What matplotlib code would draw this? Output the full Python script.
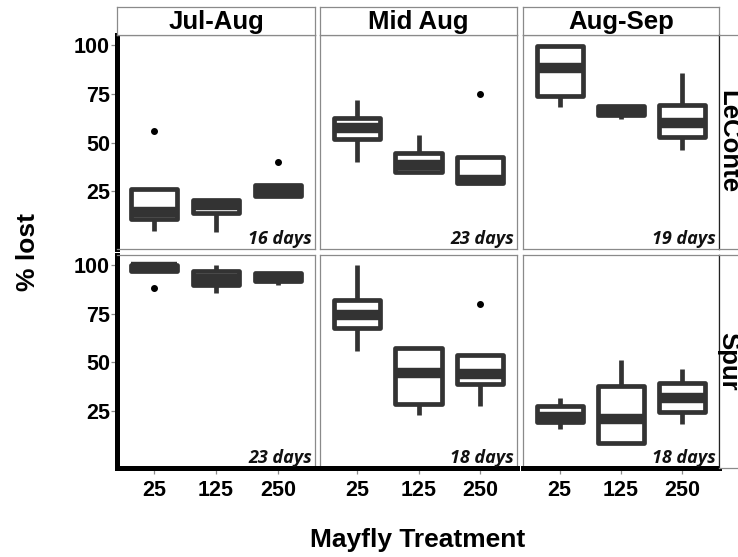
import matplotlib
matplotlib.use("Agg")
import matplotlib.pyplot as plt

plt.rcParams["font.family"] = ["Liberation Sans", "DejaVu Sans"]

seasons = ["Jul-Aug", "Mid Aug", "Aug-Sep"]
streams = ["LeConte", "Spur"]
treatments = ["25", "125", "250"]

# box summaries: one list per panel, one entry per treatment
leconte_q1 = [[10.8, 13.8, 22.8], [52.0, 35.0, 29.4], [73.9, 64.4, 53.0]]
leconte_med = [[14.7, 18.3, 25.0], [57.7, 38.4, 30.8], [88.3, 66.0, 60.3]]
leconte_q3 = [[26.2, 20.7, 28.4], [62.8, 44.5, 42.8], [99.6, 68.8, 69.4]]
leconte_lo = [[4.8, 4.3, 22.0], [40.3, 35.0, 29.4], [68.1, 62.3, 46.5]]
leconte_hi = [[26.2, 20.7, 28.4], [72.0, 53.7, 42.8], [99.6, 68.8, 85.9]]
leconte_out = [[[55.9], [], [40.3]], [[], [], [74.9]], [[], [], []]]

spur_q1 = [[96.9, 89.6, 91.9], [67.6, 28.7, 38.6], [19.3, 8.4, 24.1]]
spur_med = [[99.0, 93.0, 93.5], [74.4, 44.2, 43.9], [22.0, 20.9, 31.5]]
spur_q3 = [[100.0, 97.1, 95.7], [81.9, 57.4, 53.9], [27.5, 37.9, 39.3]]
spur_lo = [[96.9, 85.7, 89.8], [56.0, 22.9, 27.5], [15.8, 8.4, 18.1]]
spur_hi = [[100.0, 100.0, 95.7], [100.0, 57.4, 53.9], [31.5, 51.2, 46.5]]
spur_out = [[[88.3], [], []], [[], [], [79.8]], [[], [], []]]

days = [["16 days", "23 days", "19 days"], ["23 days", "18 days", "18 days"]]

summaries = [
    (leconte_q1, leconte_med, leconte_q3, leconte_lo, leconte_hi, leconte_out),
    (spur_q1, spur_med, spur_q3, spur_lo, spur_hi, spur_out),
]

W, H = 738, 557
fig = plt.figure(figsize=(W / 100, H / 100), dpi=100)


def px_axes(x0, y0, x1, y1):
    # pixel box (top-left origin) -> figure axes
    return fig.add_axes([x0 / W, 1 - y1 / H, (x1 - x0) / W, (y1 - y0) / H])


col_px = [(117, 315), (320, 517), (523, 719)]
row_px = [(35, 249), (255, 468)]
box_col = "#333333"
frame_col = "#8a8a8a"

for r, stream in enumerate(streams):
    q1s, meds, q3s, los, his, outs = summaries[r]
    for c, season in enumerate(seasons):
        x0, x1 = col_px[c]
        y0, y1 = row_px[r]
        ax = px_axes(x0, y0, x1, y1)

        stats = []
        for i, t in enumerate(treatments):
            stats.append({
                "q1": q1s[c][i], "med": meds[c][i], "q3": q3s[c][i],
                "whislo": los[c][i], "whishi": his[c][i],
                "fliers": outs[c][i], "label": t,
            })
        ax.bxp(stats, positions=[1, 2, 3], widths=0.75, patch_artist=True,
               showcaps=False,
               boxprops=dict(facecolor="white", edgecolor=box_col,
                             linewidth=3.4, joinstyle="round"),
               medianprops=dict(color=box_col, linewidth=7.5,
                                solid_capstyle="butt"),
               whiskerprops=dict(color=box_col, linewidth=3.4,
                                 solid_capstyle="butt"),
               flierprops=dict(marker="o", markerfacecolor="black",
                               markeredgecolor="black", markersize=4))

        ax.set_xlim(0.4, 3.6)
        ax.set_ylim(-4.5, 105.2)

        for s in ax.spines.values():
            s.set_color(frame_col)
            s.set_linewidth(0.9)

        ax.tick_params(colors=frame_col, width=0.9, length=4,
                       labelcolor="black", labelsize=15.5)
        if c == 0:
            ax.set_yticks([25, 50, 75, 100])
            ax.set_yticklabels(["25", "50", "75", "100"], fontweight="bold")
            ax.tick_params(axis="y", pad=1)
            ax.spines["left"].set_color("black")
            ax.spines["left"].set_linewidth(3.6)
        else:
            ax.set_yticks([])
        if r == 1:
            ax.set_xticks([1, 2, 3])
            ax.set_xticklabels(treatments, fontweight="bold")
            ax.tick_params(axis="x", pad=5)
            ax.spines["bottom"].set_color("black")
            ax.spines["bottom"].set_linewidth(3.6)
            ax.spines["bottom"].set_capstyle("projecting")
        else:
            ax.set_xticks([])

        ax.annotate(days[r][c], xy=(1, 0), xycoords="axes fraction",
                    xytext=(-2, 0.5), textcoords="offset points",
                    ha="right", va="bottom", fontsize=13,
                    family=["Open Sans", "DejaVu Sans"],
                    fontweight="bold", fontstyle="italic", color="#111111")

        # season strip above the top row
        if r == 0:
            st = px_axes(x0, 7, x1, y0)
            st.set_xticks([])
            st.set_yticks([])
            for s in st.spines.values():
                s.set_color(frame_col)
                s.set_linewidth(0.9)
            st.text(0.5, 0.45, season, ha="center", va="center",
                    fontsize=18.5, fontweight="bold", transform=st.transAxes)

    # stream strip on the right side, running past the figure edge
    y0, y1 = row_px[r]
    st = px_axes(719, y0, 760, y1)
    st.set_xticks([])
    st.set_yticks([])
    for s in st.spines.values():
        s.set_color(frame_col)
        s.set_linewidth(0.9)
    st.spines["left"].set_color("#222222")
    st.text(2.5 / 41, 0.5, stream, ha="center", va="baseline", rotation=-90,
            rotation_mode="anchor", fontsize=18.5, fontweight="bold",
            transform=st.transAxes)

fig.text(28 / W, 1 - 252 / H, "% lost", rotation=90, ha="center",
         va="center", fontsize=19, fontweight="bold")
fig.text(418 / W, 1 - 540 / H, "Mayfly Treatment", ha="center",
         va="center", fontsize=19, fontweight="bold")

fig.savefig("out.png", dpi=100)
